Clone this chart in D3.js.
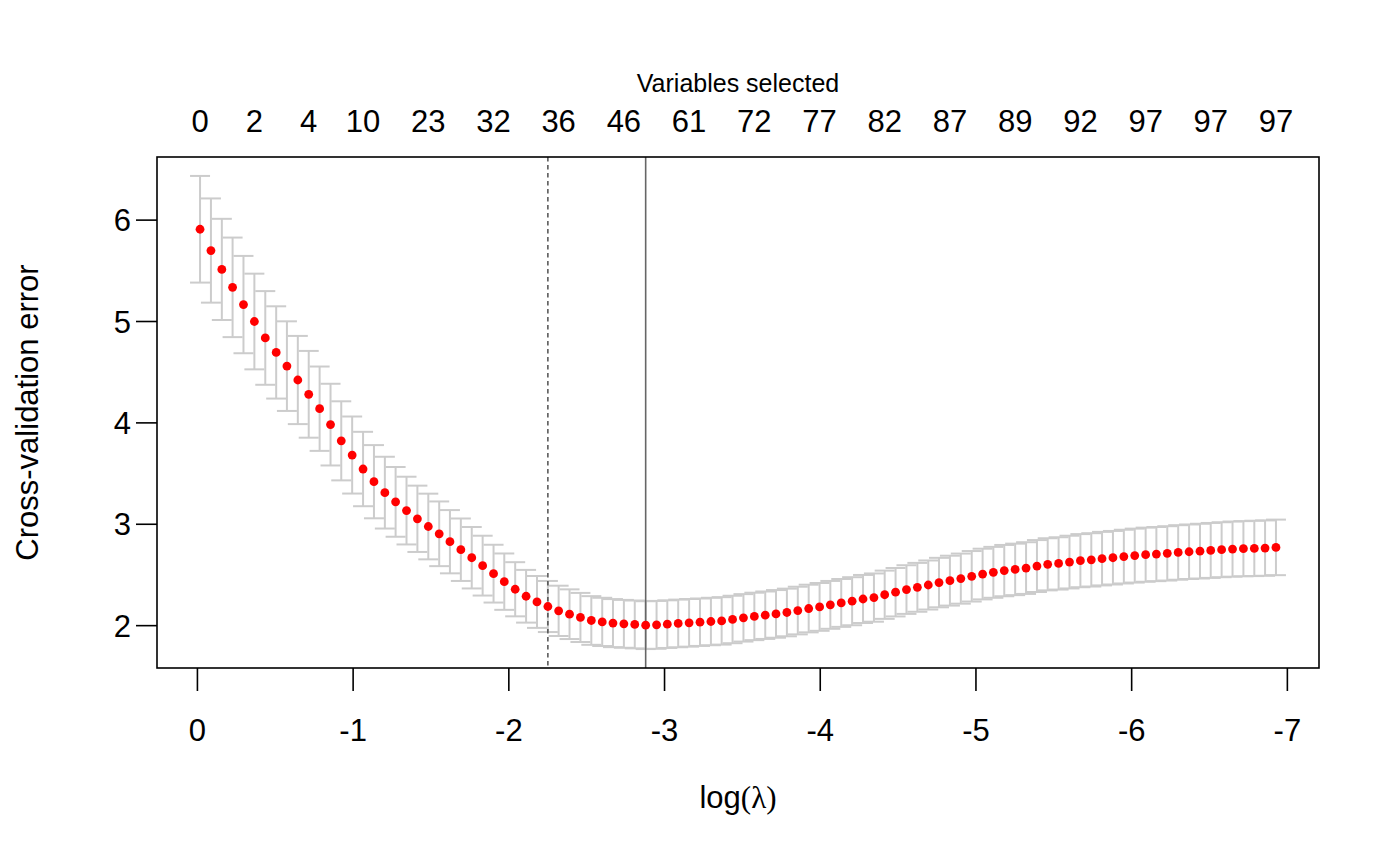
<!DOCTYPE html>
<html>
<head>
<meta charset="utf-8">
<script src="https://cdn.jsdelivr.net/npm/d3@7"></script>
<style>
  html, body { margin: 0; padding: 0; background: #ffffff; }
  svg { display: block; }
  text { font-family: "Liberation Sans", Arial, Helvetica, sans-serif; fill: #000; }
</style>
</head>
<body>
<svg id="chart" width="1400" height="865"></svg>
<script>
// ---- data ----
const logLambda = [
  -0.020,-0.090,-0.160,-0.229,-0.299,-0.369,-0.439,-0.509,-0.578,-0.648,
  -0.718,-0.788,-0.858,-0.927,-0.997,-1.067,-1.137,-1.207,-1.276,-1.346,
  -1.416,-1.486,-1.556,-1.625,-1.695,-1.765,-1.835,-1.905,-1.974,-2.044,
  -2.114,-2.184,-2.254,-2.323,-2.393,-2.463,-2.533,-2.603,-2.672,-2.742,
  -2.812,-2.882,-2.952,-3.021,-3.091,-3.161,-3.231,-3.301,-3.370,-3.440,
  -3.510,-3.580,-3.650,-3.719,-3.789,-3.859,-3.929,-3.999,-4.068,-4.138,
  -4.208,-4.278,-4.348,-4.417,-4.487,-4.557,-4.627,-4.697,-4.766,-4.836,
  -4.906,-4.976,-5.046,-5.115,-5.185,-5.255,-5.325,-5.395,-5.464,-5.534,
  -5.604,-5.674,-5.744,-5.813,-5.883,-5.953,-6.023,-6.093,-6.162,-6.232,
  -6.302,-6.372,-6.442,-6.511,-6.581,-6.651,-6.721,-6.791,-6.860,-6.930
];
const cvError = [
  5.905,5.695,5.509,5.332,5.162,4.995,4.833,4.690,4.555,4.418,
  4.277,4.135,3.978,3.818,3.678,3.540,3.415,3.307,3.216,3.130,
  3.049,2.973,2.901,2.823,2.744,2.665,2.587,2.508,2.429,2.354,
  2.285,2.229,2.184,2.141,2.108,2.076,2.046,2.032,2.020,2.013,
  2.007,2.000,2.003,2.010,2.017,2.023,2.029,2.036,2.042,2.056,
  2.072,2.086,2.098,2.111,2.125,2.144,2.164,2.180,2.200,2.219,
  2.236,2.258,2.272,2.300,2.325,2.351,2.373,2.396,2.420,2.439,
  2.459,2.482,2.504,2.521,2.538,2.550,2.563,2.583,2.600,2.609,
  2.622,2.636,2.644,2.656,2.665,2.676,2.686,2.695,2.701,2.708,
  2.717,2.724,2.730,2.737,2.744,2.750,2.754,2.757,2.760,2.767
];
const cvSE = [
  0.526,0.514,0.499,0.491,0.480,0.472,0.462,0.455,0.442,0.435,
  0.428,0.416,0.403,0.390,0.380,0.367,0.361,0.354,0.344,0.334,
  0.327,0.324,0.319,0.312,0.308,0.303,0.295,0.285,0.278,0.267,
  0.260,0.256,0.252,0.248,0.245,0.242,0.240,0.238,0.237,0.236,
  0.236,0.236,0.236,0.235,0.235,0.235,0.234,0.234,0.234,0.234,
  0.234,0.234,0.234,0.235,0.235,0.235,0.235,0.236,0.236,0.236,
  0.237,0.237,0.238,0.238,0.239,0.240,0.241,0.242,0.244,0.246,
  0.247,0.249,0.250,0.251,0.253,0.254,0.255,0.256,0.257,0.258,
  0.260,0.262,0.263,0.264,0.264,0.265,0.266,0.267,0.267,0.268,
  0.269,0.269,0.270,0.271,0.271,0.272,0.272,0.273,0.273,0.274
];
// Variables selected (top axis): index into lambda sequence and label
const nzIndex  = [0, 5, 10, 15, 21, 27, 33, 39, 45, 51, 57, 63, 69, 75, 81, 87, 93, 99];
const nzLabels = ["0","2","4","10","23","32","36","46","61","72","77","82","87","89","92","97","97","97"];
const xTicks = [0, -1, -2, -3, -4, -5, -6, -7];
const yTicks = [2, 3, 4, 5, 6];
const lambdaMinIdx = 41;   // solid line
const lambda1seIdx = 32;   // dashed line

// ---- layout ----
const box = { left: 157, right: 1319, top: 157, bottom: 668 };
const svg = d3.select("#chart");

// R-style 4% axis expansion
const xr = d3.extent(logLambda);
const xpad = (xr[1] - xr[0]) * 0.04;
const x = d3.scaleLinear()
  .domain([xr[1] + xpad, xr[0] - xpad])
  .range([box.left, box.right]);

const lows = cvError.map((v, i) => v - cvSE[i]);
const highs = cvError.map((v, i) => v + cvSE[i]);
const yr = [d3.min(lows), d3.max(highs)];
const ypad = (yr[1] - yr[0]) * 0.04;
const y = d3.scaleLinear()
  .domain([yr[0] - ypad, yr[1] + ypad])
  .range([box.bottom, box.top]);

const data = logLambda.map((l, i) => ({ l, m: cvError[i], lo: lows[i], hi: highs[i] }));

// ---- error bars ----
const eb = svg.append("g").attr("stroke", "#cccccc").attr("stroke-width", 2).attr("fill", "none");
const capW = 10;
eb.selectAll("line.v").data(data).join("line")
  .attr("x1", d => x(d.l)).attr("x2", d => x(d.l))
  .attr("y1", d => y(d.lo)).attr("y2", d => y(d.hi));
eb.selectAll("line.top").data(data).join("line")
  .attr("x1", d => x(d.l) - capW).attr("x2", d => x(d.l) + capW)
  .attr("y1", d => y(d.hi)).attr("y2", d => y(d.hi));
eb.selectAll("line.bot").data(data).join("line")
  .attr("x1", d => x(d.l) - capW).attr("x2", d => x(d.l) + capW)
  .attr("y1", d => y(d.lo)).attr("y2", d => y(d.lo));

// ---- vertical reference lines ----
svg.append("line")
  .attr("x1", x(logLambda[lambda1seIdx])).attr("x2", x(logLambda[lambda1seIdx]))
  .attr("y1", box.top).attr("y2", box.bottom)
  .attr("stroke", "#444").attr("stroke-width", 1.4).attr("stroke-dasharray", "4.5,3.5");
svg.append("line")
  .attr("x1", x(logLambda[lambdaMinIdx])).attr("x2", x(logLambda[lambdaMinIdx]))
  .attr("y1", box.top).attr("y2", box.bottom)
  .attr("stroke", "#666").attr("stroke-width", 1.6);

// ---- points ----
svg.append("g").selectAll("circle").data(data).join("circle")
  .attr("cx", d => x(d.l)).attr("cy", d => y(d.m)).attr("r", 4.4)
  .attr("fill", "#ff0000");

// ---- box ----
svg.append("rect")
  .attr("x", box.left).attr("y", box.top)
  .attr("width", box.right - box.left).attr("height", box.bottom - box.top)
  .attr("fill", "none").attr("stroke", "#000").attr("stroke-width", 1.6);

// ---- bottom axis ----
const gx = svg.append("g").attr("transform", `translate(0,${box.bottom})`)
  .call(d3.axisBottom(x).tickValues(xTicks).tickSize(23).tickFormat(d => String(d)));
gx.select(".domain").remove();
gx.selectAll(".tick line").attr("stroke", "#000").attr("stroke-width", 1.6);
gx.selectAll(".tick text").attr("y", 73).attr("dy", null)
  .attr("font-size", "31px").attr("font-family", "Liberation Sans, Arial, sans-serif").attr("fill", "#000");

// ---- left axis ----
const gy = svg.append("g").attr("transform", `translate(${box.left},0)`)
  .call(d3.axisLeft(y).tickValues(yTicks).tickSize(21).tickFormat(d => String(d)));
gy.select(".domain").remove();
gy.selectAll(".tick line").attr("stroke", "#000").attr("stroke-width", 1.6);
gy.selectAll(".tick text").attr("x", -26).attr("dy", "0.36em")
  .attr("font-size", "31px").attr("font-family", "Liberation Sans, Arial, sans-serif").attr("fill", "#000");

// ---- top labels (variables selected) ----
svg.append("g").selectAll("text").data(nzIndex).join("text")
  .attr("x", (d) => x(logLambda[d])).attr("y", 132)
  .attr("text-anchor", "middle").attr("font-size", "31px")
  .text((d, i) => nzLabels[i]);
svg.append("text")
  .attr("x", (box.left + box.right) / 2).attr("y", 92)
  .attr("text-anchor", "middle").attr("font-size", "25px")
  .text("Variables selected");

// ---- axis titles ----
const xt = svg.append("text")
  .attr("x", (box.left + box.right) / 2).attr("y", 808)
  .attr("text-anchor", "middle").attr("font-size", "31px");
xt.append("tspan").text("log");
xt.append("tspan").attr("font-family", "Liberation Serif, Times New Roman, serif").text("(λ)");

svg.append("text")
  .attr("transform", `translate(38,${(box.top + box.bottom) / 2}) rotate(-90)`)
  .attr("text-anchor", "middle").attr("font-size", "31px")
  .text("Cross-validation error");
</script>
</body>
</html>
